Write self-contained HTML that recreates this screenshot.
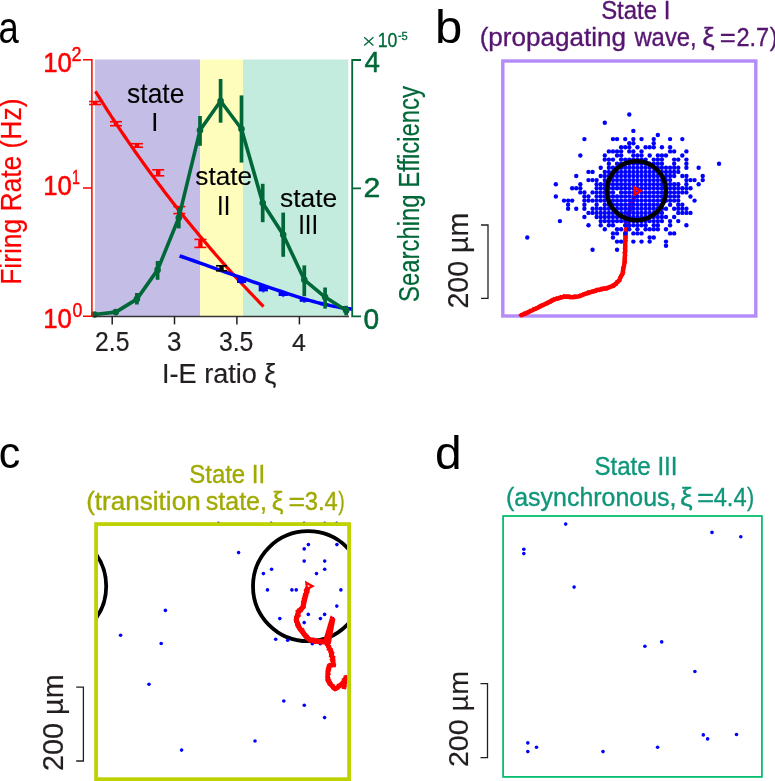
<!DOCTYPE html><html><head><meta charset="utf-8"><title>fig</title><style>
html,body{margin:0;padding:0;background:#fff;overflow:hidden;}svg{display:block;will-change:transform;}
text{font-family:"Liberation Sans",sans-serif;}
</style></head><body>
<svg width="775" height="781" viewBox="0 0 775 781">
<rect x="95" y="59.5" width="105.2" height="256.8" fill="#c4bee6"/>
<rect x="200.2" y="59.5" width="42.8" height="256.8" fill="#fffdbb"/>
<rect x="243" y="59.5" width="105.3" height="256.8" fill="#c3ecde"/>
<polyline points="95.4,91.3 97.4,94.5 99.4,97.7 101.4,100.9 103.4,104.0 105.4,107.2 107.4,110.3 109.4,113.4 111.4,116.5 113.4,119.5 115.4,122.6 117.4,125.6 119.4,128.6 121.4,131.6 123.4,134.5 125.4,137.5 127.4,140.4 129.4,143.3 131.4,146.2 133.4,149.1 135.4,152.0 137.4,154.8 139.4,157.6 141.4,160.4 143.4,163.2 145.4,166.0 147.4,168.8 149.4,171.5 151.4,174.2 153.4,176.9 155.4,179.6 157.4,182.3 159.4,185.0 161.4,187.6 163.4,190.3 165.4,192.9 167.4,195.5 169.4,198.1 171.4,200.7 173.4,203.3 175.4,205.8 177.4,208.4 179.4,210.9 181.4,213.4 183.4,215.9 185.4,218.4 187.4,220.9 189.4,223.3 191.4,225.8 193.4,228.2 195.4,230.6 197.4,233.0 199.4,235.4 201.4,237.8 203.4,240.2 205.4,242.6 207.4,244.9 209.4,247.3 211.4,249.6 213.4,251.9 215.4,254.2 217.4,256.5 219.4,258.8 221.4,261.1 223.4,263.3 225.4,265.6 227.4,267.8 229.4,270.1 231.4,272.3 233.4,274.5 235.4,276.7 237.4,278.9 239.4,281.1 241.4,283.2 243.4,285.4 245.4,287.5 247.4,289.7 249.4,291.8 251.4,293.9 253.4,296.0 255.4,298.2 257.4,300.2 259.4,302.3 261.4,304.4 263.4,306.5 263.5,306.6" fill="none" stroke="#ff0000" stroke-width="3.2"/>
<polyline points="179.6,255.8 182.9,257.0 187.5,258.6 192.9,260.5 198.8,262.6 204.6,264.7 210.0,266.6 215.0,268.4 219.8,270.1 224.7,271.8 229.6,273.6 234.7,275.3 240.0,277.2 245.7,279.2 251.7,281.3 257.8,283.4 263.9,285.6 269.7,287.6 275.0,289.4 279.8,291.0 284.3,292.5 288.4,293.9 292.4,295.2 296.2,296.4 300.0,297.6 303.6,298.7 307.0,299.7 310.3,300.6 313.5,301.5 316.7,302.4 320.0,303.2 323.4,304.0 326.9,304.8 330.5,305.6 333.9,306.2 337.1,306.9 340.0,307.4 342.7,307.8 345.2,308.2 347.6,308.5 349.6,308.7 351.3,308.9 352.6,309.0" fill="none" stroke="#0000ff" stroke-width="3.5"/>
<rect x="89.1" y="100.7" width="12" height="1.6" fill="#ff0000"/><rect x="89.1" y="103.7" width="12" height="1.6" fill="#ff0000"/><rect x="92.9" y="101.5" width="4.4" height="3" fill="#ff0000"/>
<rect x="110.0" y="120.9" width="12" height="1.6" fill="#ff0000"/><rect x="110.0" y="124.9" width="12" height="1.6" fill="#ff0000"/><rect x="113.8" y="121.7" width="4.4" height="4" fill="#ff0000"/>
<rect x="130.9" y="142.9" width="12" height="1.6" fill="#ff0000"/><rect x="130.9" y="146.4" width="12" height="1.6" fill="#ff0000"/><rect x="134.7" y="143.8" width="4.4" height="3.5" fill="#ff0000"/>
<rect x="152.2" y="169.0" width="12" height="1.6" fill="#ff0000"/><rect x="152.2" y="175.0" width="12" height="1.6" fill="#ff0000"/><rect x="156.0" y="169.8" width="4.4" height="6" fill="#ff0000"/>
<rect x="173.3" y="205.8" width="12" height="1.6" fill="#ff0000"/><rect x="173.3" y="212.8" width="12" height="1.6" fill="#ff0000"/><rect x="177.1" y="206.6" width="4.4" height="7" fill="#ff0000"/>
<rect x="194.4" y="238.6" width="12" height="1.6" fill="#ff0000"/><rect x="194.4" y="246.6" width="12" height="1.6" fill="#ff0000"/><rect x="198.2" y="239.4" width="4.4" height="8" fill="#ff0000"/>
<rect x="216.0" y="265.0" width="11" height="1.6" fill="#000000"/><rect x="216.0" y="270.0" width="11" height="1.6" fill="#000000"/><rect x="219.3" y="265.8" width="4.4" height="5" fill="#000000"/>
<rect x="237.0" y="277.8" width="9.2" height="5.2" fill="#0000ff"/>
<circle cx="241.6" cy="282.7" r="1.6" fill="#0000ff" opacity="0.6"/>
<rect x="258.7" y="285.4" width="9.2" height="6.0" fill="#0000ff"/>
<circle cx="263.3" cy="291.1" r="1.6" fill="#0000ff" opacity="0.6"/>
<rect x="278.6" y="292.2" width="9.2" height="3.8" fill="#0000ff"/>
<circle cx="283.2" cy="295.7" r="1.6" fill="#0000ff" opacity="0.6"/>
<rect x="299.7" y="298.9" width="9.2" height="2.9" fill="#0000ff"/>
<circle cx="304.3" cy="301.5" r="1.6" fill="#0000ff" opacity="0.6"/>
<rect x="320.5" y="304.4" width="9.2" height="1.1" fill="#0000ff"/>
<circle cx="325.1" cy="305.2" r="1.6" fill="#0000ff" opacity="0.6"/>
<rect x="341.6" y="308.3" width="9.2" height="1.2" fill="#0000ff"/>
<circle cx="346.2" cy="309.2" r="1.6" fill="#0000ff" opacity="0.6"/>
<polyline points="94.5,314.5 115.8,312.1 136.9,299.1 157.6,269.9 178.8,217.7 200,130.3 220.6,101 241.5,129 262.7,203 283.2,234.7 304.3,279.8 325.1,297.1 346.2,310.6" fill="none" stroke="#006838" stroke-width="3.6" stroke-linejoin="round"/>
<circle cx="94.5" cy="314.5" r="3.3" fill="#006838"/>
<rect x="113.95" y="309.8" width="3.7" height="5.4" fill="#006838"/>
<circle cx="115.8" cy="312.1" r="3.3" fill="#006838"/>
<rect x="135.05" y="293" width="3.7" height="11.5" fill="#006838"/>
<circle cx="136.9" cy="299.1" r="3.3" fill="#006838"/>
<rect x="155.75" y="261" width="3.7" height="18.8" fill="#006838"/>
<circle cx="157.6" cy="269.9" r="3.3" fill="#006838"/>
<rect x="176.95" y="207.7" width="3.7" height="20.7" fill="#006838"/>
<circle cx="178.8" cy="217.7" r="3.3" fill="#006838"/>
<rect x="198.15" y="116" width="3.7" height="29.8" fill="#006838"/>
<circle cx="200" cy="130.3" r="3.3" fill="#006838"/>
<rect x="218.75" y="79" width="3.7" height="43.7" fill="#006838"/>
<circle cx="220.6" cy="101" r="3.3" fill="#006838"/>
<rect x="239.65" y="95.4" width="3.7" height="67.2" fill="#006838"/>
<circle cx="241.5" cy="129" r="3.3" fill="#006838"/>
<rect x="260.85" y="183.8" width="3.7" height="38.4" fill="#006838"/>
<circle cx="262.7" cy="203" r="3.3" fill="#006838"/>
<rect x="281.35" y="212.6" width="3.7" height="44.2" fill="#006838"/>
<circle cx="283.2" cy="234.7" r="3.3" fill="#006838"/>
<rect x="302.45" y="265.4" width="3.7" height="30.8" fill="#006838"/>
<circle cx="304.3" cy="279.8" r="3.3" fill="#006838"/>
<rect x="323.25" y="287.5" width="3.7" height="21.1" fill="#006838"/>
<circle cx="325.1" cy="297.1" r="3.3" fill="#006838"/>
<rect x="344.35" y="305.8" width="3.7" height="9.6" fill="#006838"/>
<circle cx="346.2" cy="310.6" r="3.3" fill="#006838"/>
<path d="M83,59.7 H91.9 V316.2 H83 M83,188 H91.9" fill="none" stroke="#ff0000" stroke-width="1.5"/>
<path d="M361,60 H352.2 V316.4 H361 M352.2,188.4 H361" fill="none" stroke="#006838" stroke-width="1.8"/>
<path d="M93.5,316.5 H349" stroke="#231f20" stroke-width="1.3" opacity="0.9"/>
<line x1="112.2" y1="316.4" x2="112.2" y2="324.4" stroke="#231f20" stroke-width="1.5"/>
<line x1="174.5" y1="316.4" x2="174.5" y2="324.4" stroke="#231f20" stroke-width="1.5"/>
<line x1="236.9" y1="316.4" x2="236.9" y2="324.4" stroke="#231f20" stroke-width="1.5"/>
<line x1="299.4" y1="316.4" x2="299.4" y2="324.4" stroke="#231f20" stroke-width="1.5"/>
<path d="M364.2,37.2 L373.4,45.6 M373.4,37.2 L364.2,45.6" stroke="#006838" stroke-width="1.3"/>
<path d="M398.3,36.3 H401.3" stroke="#006838" stroke-width="1.3"/>
<rect x="502.8" y="61" width="253" height="255" fill="none" stroke="#b48cfa" stroke-width="3.4"/>
<polyline points="520.9,315.6 531.8,310.6 543.6,304.7 554.5,299.4 560.3,297.6 565.4,296.5 572.9,297.3 578.8,296.3 588.9,292.6 598.9,289.6 607.3,288 614,285.4 619.1,280.4 622.4,273.7 624.4,263.6 625.2,250.2 625.4,236.8 626,230 627,223 628.6,215 630.6,207 633.5,199 636,192" fill="none" stroke="#ff0000" stroke-width="4.4" stroke-linejoin="round"/>
<g fill="#ff0000"><rect x="518.99" y="313.48" width="3.4" height="3.4" transform="rotate(59 520.69 315.18)"/><rect x="519.90" y="313.39" width="3.4" height="3.4" transform="rotate(33 521.60 315.09)"/><rect x="521.09" y="312.80" width="3.4" height="3.4" transform="rotate(3 522.79 314.50)"/><rect x="522.75" y="311.72" width="3.4" height="3.4" transform="rotate(8 524.45 313.42)"/><rect x="523.95" y="312.07" width="3.4" height="3.4" transform="rotate(11 525.65 313.77)"/><rect x="524.92" y="311.28" width="3.4" height="3.4" transform="rotate(85 526.62 312.98)"/><rect x="526.56" y="310.44" width="3.4" height="3.4" transform="rotate(88 528.26 312.14)"/><rect x="527.13" y="310.44" width="3.4" height="3.4" transform="rotate(26 528.83 312.14)"/><rect x="528.46" y="309.00" width="3.4" height="3.4" transform="rotate(28 530.16 310.70)"/><rect x="530.48" y="308.52" width="3.4" height="3.4" transform="rotate(52 532.18 310.22)"/><rect x="531.45" y="308.16" width="3.4" height="3.4" transform="rotate(49 533.15 309.86)"/><rect x="531.94" y="307.19" width="3.4" height="3.4" transform="rotate(19 533.64 308.89)"/><rect x="533.86" y="307.04" width="3.4" height="3.4" transform="rotate(28 535.56 308.74)"/><rect x="534.92" y="306.48" width="3.4" height="3.4" transform="rotate(27 536.62 308.18)"/><rect x="536.35" y="306.19" width="3.4" height="3.4" transform="rotate(22 538.05 307.89)"/><rect x="537.27" y="305.39" width="3.4" height="3.4" transform="rotate(79 538.97 307.09)"/><rect x="538.64" y="304.52" width="3.4" height="3.4" transform="rotate(88 540.34 306.22)"/><rect x="539.08" y="304.08" width="3.4" height="3.4" transform="rotate(68 540.78 305.78)"/><rect x="540.30" y="303.58" width="3.4" height="3.4" transform="rotate(4 542.00 305.28)"/><rect x="542.10" y="303.32" width="3.4" height="3.4" transform="rotate(52 543.80 305.02)"/><rect x="543.56" y="302.19" width="3.4" height="3.4" transform="rotate(63 545.26 303.89)"/><rect x="544.44" y="301.92" width="3.4" height="3.4" transform="rotate(41 546.14 303.62)"/><rect x="545.94" y="301.77" width="3.4" height="3.4" transform="rotate(43 547.64 303.47)"/><rect x="546.94" y="300.12" width="3.4" height="3.4" transform="rotate(63 548.64 301.82)"/><rect x="548.13" y="300.65" width="3.4" height="3.4" transform="rotate(74 549.83 302.35)"/><rect x="548.91" y="299.33" width="3.4" height="3.4" transform="rotate(60 550.61 301.03)"/><rect x="549.80" y="298.83" width="3.4" height="3.4" transform="rotate(15 551.50 300.53)"/><rect x="551.13" y="297.76" width="3.4" height="3.4" transform="rotate(69 552.83 299.46)"/><rect x="552.36" y="297.40" width="3.4" height="3.4" transform="rotate(35 554.06 299.10)"/><rect x="554.70" y="296.75" width="3.4" height="3.4" transform="rotate(40 556.40 298.45)"/><rect x="555.76" y="297.26" width="3.4" height="3.4" transform="rotate(74 557.46 298.96)"/><rect x="557.59" y="296.08" width="3.4" height="3.4" transform="rotate(37 559.29 297.78)"/><rect x="558.43" y="296.36" width="3.4" height="3.4" transform="rotate(86 560.13 298.06)"/><rect x="559.46" y="295.24" width="3.4" height="3.4" transform="rotate(21 561.16 296.94)"/><rect x="560.83" y="295.33" width="3.4" height="3.4" transform="rotate(53 562.53 297.03)"/><rect x="562.14" y="294.48" width="3.4" height="3.4" transform="rotate(38 563.84 296.18)"/><rect x="563.54" y="294.88" width="3.4" height="3.4" transform="rotate(86 565.24 296.58)"/><rect x="565.43" y="294.98" width="3.4" height="3.4" transform="rotate(56 567.13 296.68)"/><rect x="566.91" y="294.58" width="3.4" height="3.4" transform="rotate(81 568.61 296.28)"/><rect x="568.54" y="295.73" width="3.4" height="3.4" transform="rotate(72 570.24 297.43)"/><rect x="569.57" y="295.32" width="3.4" height="3.4" transform="rotate(9 571.27 297.02)"/><rect x="571.36" y="295.07" width="3.4" height="3.4" transform="rotate(6 573.06 296.77)"/><rect x="572.33" y="294.94" width="3.4" height="3.4" transform="rotate(31 574.03 296.64)"/><rect x="573.61" y="294.50" width="3.4" height="3.4" transform="rotate(14 575.31 296.20)"/><rect x="575.15" y="294.69" width="3.4" height="3.4" transform="rotate(2 576.85 296.39)"/><rect x="577.55" y="294.74" width="3.4" height="3.4" transform="rotate(13 579.25 296.44)"/><rect x="578.07" y="293.95" width="3.4" height="3.4" transform="rotate(33 579.77 295.65)"/><rect x="579.17" y="294.09" width="3.4" height="3.4" transform="rotate(89 580.87 295.79)"/><rect x="580.85" y="293.19" width="3.4" height="3.4" transform="rotate(8 582.55 294.89)"/><rect x="581.67" y="292.56" width="3.4" height="3.4" transform="rotate(24 583.37 294.26)"/><rect x="583.81" y="291.88" width="3.4" height="3.4" transform="rotate(2 585.51 293.58)"/><rect x="585.22" y="291.86" width="3.4" height="3.4" transform="rotate(13 586.92 293.56)"/><rect x="585.99" y="290.79" width="3.4" height="3.4" transform="rotate(48 587.69 292.49)"/><rect x="587.77" y="291.34" width="3.4" height="3.4" transform="rotate(63 589.47 293.04)"/><rect x="588.16" y="290.37" width="3.4" height="3.4" transform="rotate(15 589.86 292.07)"/><rect x="590.03" y="290.19" width="3.4" height="3.4" transform="rotate(70 591.73 291.89)"/><rect x="590.75" y="289.44" width="3.4" height="3.4" transform="rotate(73 592.45 291.14)"/><rect x="592.78" y="289.82" width="3.4" height="3.4" transform="rotate(73 594.48 291.52)"/><rect x="593.83" y="289.31" width="3.4" height="3.4" transform="rotate(20 595.53 291.01)"/><rect x="594.72" y="288.48" width="3.4" height="3.4" transform="rotate(3 596.42 290.18)"/><rect x="595.38" y="288.01" width="3.4" height="3.4" transform="rotate(23 597.08 289.71)"/><rect x="597.43" y="288.45" width="3.4" height="3.4" transform="rotate(40 599.13 290.15)"/><rect x="599.12" y="288.22" width="3.4" height="3.4" transform="rotate(86 600.82 289.92)"/><rect x="599.84" y="287.03" width="3.4" height="3.4" transform="rotate(20 601.54 288.73)"/><rect x="601.04" y="286.75" width="3.4" height="3.4" transform="rotate(56 602.74 288.45)"/><rect x="603.28" y="287.24" width="3.4" height="3.4" transform="rotate(43 604.98 288.94)"/><rect x="604.38" y="286.93" width="3.4" height="3.4" transform="rotate(8 606.08 288.63)"/><rect x="605.79" y="286.79" width="3.4" height="3.4" transform="rotate(70 607.49 288.49)"/><rect x="607.24" y="285.75" width="3.4" height="3.4" transform="rotate(16 608.94 287.45)"/><rect x="608.63" y="285.06" width="3.4" height="3.4" transform="rotate(72 610.33 286.76)"/><rect x="610.19" y="284.62" width="3.4" height="3.4" transform="rotate(36 611.89 286.32)"/><rect x="611.50" y="284.49" width="3.4" height="3.4" transform="rotate(15 613.20 286.19)"/><rect x="611.85" y="283.28" width="3.4" height="3.4" transform="rotate(81 613.55 284.98)"/><rect x="613.69" y="282.28" width="3.4" height="3.4" transform="rotate(74 615.39 283.98)"/><rect x="614.92" y="281.89" width="3.4" height="3.4" transform="rotate(32 616.62 283.59)"/><rect x="615.42" y="280.26" width="3.4" height="3.4" transform="rotate(1 617.12 281.96)"/><rect x="616.95" y="279.88" width="3.4" height="3.4" transform="rotate(47 618.65 281.58)"/><rect x="617.92" y="278.62" width="3.4" height="3.4" transform="rotate(78 619.62 280.32)"/><rect x="618.45" y="277.01" width="3.4" height="3.4" transform="rotate(23 620.15 278.71)"/><rect x="618.47" y="275.71" width="3.4" height="3.4" transform="rotate(53 620.17 277.41)"/><rect x="619.09" y="274.58" width="3.4" height="3.4" transform="rotate(12 620.79 276.28)"/><rect x="620.53" y="273.16" width="3.4" height="3.4" transform="rotate(41 622.23 274.86)"/><rect x="620.80" y="272.49" width="3.4" height="3.4" transform="rotate(38 622.50 274.19)"/><rect x="621.49" y="270.56" width="3.4" height="3.4" transform="rotate(48 623.19 272.26)"/><rect x="621.30" y="268.54" width="3.4" height="3.4" transform="rotate(40 623.00 270.24)"/><rect x="621.18" y="267.08" width="3.4" height="3.4" transform="rotate(72 622.88 268.78)"/><rect x="621.45" y="266.20" width="3.4" height="3.4" transform="rotate(65 623.15 267.90)"/><rect x="622.20" y="264.58" width="3.4" height="3.4" transform="rotate(47 623.90 266.28)"/><rect x="622.48" y="263.68" width="3.4" height="3.4" transform="rotate(10 624.18 265.38)"/><rect x="622.77" y="261.60" width="3.4" height="3.4" transform="rotate(25 624.47 263.30)"/><rect x="623.11" y="260.57" width="3.4" height="3.4" transform="rotate(51 624.81 262.27)"/><rect x="623.17" y="259.71" width="3.4" height="3.4" transform="rotate(40 624.87 261.41)"/><rect x="623.08" y="257.89" width="3.4" height="3.4" transform="rotate(46 624.78 259.59)"/><rect x="623.25" y="256.48" width="3.4" height="3.4" transform="rotate(48 624.95 258.18)"/><rect x="623.07" y="255.73" width="3.4" height="3.4" transform="rotate(63 624.77 257.43)"/><rect x="623.63" y="254.39" width="3.4" height="3.4" transform="rotate(23 625.33 256.09)"/><rect x="623.33" y="253.05" width="3.4" height="3.4" transform="rotate(76 625.03 254.75)"/><rect x="622.90" y="250.73" width="3.4" height="3.4" transform="rotate(40 624.60 252.43)"/><rect x="622.91" y="249.53" width="3.4" height="3.4" transform="rotate(7 624.61 251.23)"/><rect x="623.70" y="248.84" width="3.4" height="3.4" transform="rotate(81 625.40 250.54)"/><rect x="623.11" y="247.42" width="3.4" height="3.4" transform="rotate(59 624.81 249.12)"/><rect x="623.11" y="246.28" width="3.4" height="3.4" transform="rotate(87 624.81 247.98)"/><rect x="623.22" y="245.02" width="3.4" height="3.4" transform="rotate(36 624.92 246.72)"/><rect x="623.56" y="243.73" width="3.4" height="3.4" transform="rotate(75 625.26 245.43)"/><rect x="623.19" y="241.72" width="3.4" height="3.4" transform="rotate(46 624.89 243.42)"/><rect x="623.43" y="240.09" width="3.4" height="3.4" transform="rotate(29 625.13 241.79)"/><rect x="623.91" y="238.54" width="3.4" height="3.4" transform="rotate(50 625.61 240.24)"/><rect x="623.59" y="237.20" width="3.4" height="3.4" transform="rotate(30 625.29 238.90)"/><rect x="623.83" y="236.45" width="3.4" height="3.4" transform="rotate(6 625.53 238.15)"/><rect x="624.28" y="235.45" width="3.4" height="3.4" transform="rotate(87 625.98 237.15)"/><rect x="623.35" y="233.46" width="3.4" height="3.4" transform="rotate(4 625.05 235.16)"/><rect x="624.27" y="232.10" width="3.4" height="3.4" transform="rotate(12 625.97 233.80)"/><rect x="623.97" y="231.51" width="3.4" height="3.4" transform="rotate(74 625.67 233.21)"/><rect x="623.89" y="229.24" width="3.4" height="3.4" transform="rotate(83 625.59 230.94)"/></g>
<g fill="#0000ff">
<circle cx="527.28" cy="237.50" r="2.2"/><circle cx="555.84" cy="184.20" r="2.2"/><circle cx="555.84" cy="196.50" r="2.2"/><circle cx="559.92" cy="221.10" r="2.2"/><circle cx="564.00" cy="200.60" r="2.2"/><circle cx="568.08" cy="200.60" r="2.2"/><circle cx="568.08" cy="204.70" r="2.2"/><circle cx="568.08" cy="208.80" r="2.2"/><circle cx="572.16" cy="188.30" r="2.2"/><circle cx="572.16" cy="200.60" r="2.2"/><circle cx="576.24" cy="176.00" r="2.2"/><circle cx="576.24" cy="188.30" r="2.2"/><circle cx="576.24" cy="208.80" r="2.2"/><circle cx="580.32" cy="155.50" r="2.2"/><circle cx="580.32" cy="184.20" r="2.2"/><circle cx="580.32" cy="188.30" r="2.2"/><circle cx="580.32" cy="192.40" r="2.2"/><circle cx="584.40" cy="139.10" r="2.2"/><circle cx="584.40" cy="192.40" r="2.2"/><circle cx="584.40" cy="196.50" r="2.2"/><circle cx="584.40" cy="200.60" r="2.2"/><circle cx="584.40" cy="204.70" r="2.2"/><circle cx="584.40" cy="208.80" r="2.2"/><circle cx="584.40" cy="217.00" r="2.2"/><circle cx="588.48" cy="171.90" r="2.2"/><circle cx="588.48" cy="180.10" r="2.2"/><circle cx="588.48" cy="196.50" r="2.2"/><circle cx="588.48" cy="200.60" r="2.2"/><circle cx="588.48" cy="212.90" r="2.2"/><circle cx="588.48" cy="225.20" r="2.2"/><circle cx="592.56" cy="171.90" r="2.2"/><circle cx="592.56" cy="180.10" r="2.2"/><circle cx="592.56" cy="192.40" r="2.2"/><circle cx="592.56" cy="200.60" r="2.2"/><circle cx="592.56" cy="208.80" r="2.2"/><circle cx="592.56" cy="212.90" r="2.2"/><circle cx="592.56" cy="249.80" r="2.2"/><circle cx="596.64" cy="180.10" r="2.2"/><circle cx="596.64" cy="184.20" r="2.2"/><circle cx="596.64" cy="188.30" r="2.2"/><circle cx="596.64" cy="192.40" r="2.2"/><circle cx="596.64" cy="196.50" r="2.2"/><circle cx="596.64" cy="200.60" r="2.2"/><circle cx="596.64" cy="204.70" r="2.2"/><circle cx="596.64" cy="208.80" r="2.2"/><circle cx="596.64" cy="212.90" r="2.2"/><circle cx="596.64" cy="217.00" r="2.2"/><circle cx="600.72" cy="167.80" r="2.2"/><circle cx="600.72" cy="176.00" r="2.2"/><circle cx="600.72" cy="184.20" r="2.2"/><circle cx="600.72" cy="188.30" r="2.2"/><circle cx="600.72" cy="192.40" r="2.2"/><circle cx="600.72" cy="196.50" r="2.2"/><circle cx="600.72" cy="200.60" r="2.2"/><circle cx="600.72" cy="208.80" r="2.2"/><circle cx="600.72" cy="212.90" r="2.2"/><circle cx="600.72" cy="217.00" r="2.2"/><circle cx="600.72" cy="221.10" r="2.2"/><circle cx="600.72" cy="225.20" r="2.2"/><circle cx="604.80" cy="122.70" r="2.2"/><circle cx="604.80" cy="155.50" r="2.2"/><circle cx="604.80" cy="159.60" r="2.2"/><circle cx="604.80" cy="171.90" r="2.2"/><circle cx="604.80" cy="176.00" r="2.2"/><circle cx="604.80" cy="180.10" r="2.2"/><circle cx="604.80" cy="184.20" r="2.2"/><circle cx="604.80" cy="188.30" r="2.2"/><circle cx="604.80" cy="192.40" r="2.2"/><circle cx="604.80" cy="196.50" r="2.2"/><circle cx="604.80" cy="200.60" r="2.2"/><circle cx="604.80" cy="204.70" r="2.2"/><circle cx="604.80" cy="208.80" r="2.2"/><circle cx="604.80" cy="212.90" r="2.2"/><circle cx="604.80" cy="217.00" r="2.2"/><circle cx="604.80" cy="221.10" r="2.2"/><circle cx="604.80" cy="229.30" r="2.2"/><circle cx="608.88" cy="151.40" r="2.2"/><circle cx="608.88" cy="159.60" r="2.2"/><circle cx="608.88" cy="163.70" r="2.2"/><circle cx="608.88" cy="167.80" r="2.2"/><circle cx="608.88" cy="171.90" r="2.2"/><circle cx="608.88" cy="176.00" r="2.2"/><circle cx="608.88" cy="180.10" r="2.2"/><circle cx="608.88" cy="184.20" r="2.2"/><circle cx="608.88" cy="188.30" r="2.2"/><circle cx="608.88" cy="192.40" r="2.2"/><circle cx="608.88" cy="196.50" r="2.2"/><circle cx="608.88" cy="200.60" r="2.2"/><circle cx="608.88" cy="204.70" r="2.2"/><circle cx="608.88" cy="208.80" r="2.2"/><circle cx="608.88" cy="212.90" r="2.2"/><circle cx="608.88" cy="217.00" r="2.2"/><circle cx="608.88" cy="221.10" r="2.2"/><circle cx="608.88" cy="225.20" r="2.2"/><circle cx="612.96" cy="139.10" r="2.2"/><circle cx="612.96" cy="151.40" r="2.2"/><circle cx="612.96" cy="159.60" r="2.2"/><circle cx="612.96" cy="167.80" r="2.2"/><circle cx="612.96" cy="171.90" r="2.2"/><circle cx="612.96" cy="176.00" r="2.2"/><circle cx="612.96" cy="180.10" r="2.2"/><circle cx="612.96" cy="184.20" r="2.2"/><circle cx="612.96" cy="188.30" r="2.2"/><circle cx="612.96" cy="192.40" r="2.2"/><circle cx="612.96" cy="196.50" r="2.2"/><circle cx="612.96" cy="200.60" r="2.2"/><circle cx="612.96" cy="204.70" r="2.2"/><circle cx="612.96" cy="208.80" r="2.2"/><circle cx="612.96" cy="212.90" r="2.2"/><circle cx="612.96" cy="217.00" r="2.2"/><circle cx="612.96" cy="221.10" r="2.2"/><circle cx="612.96" cy="225.20" r="2.2"/><circle cx="612.96" cy="233.40" r="2.2"/><circle cx="612.96" cy="237.50" r="2.2"/><circle cx="617.04" cy="139.10" r="2.2"/><circle cx="617.04" cy="151.40" r="2.2"/><circle cx="617.04" cy="155.50" r="2.2"/><circle cx="617.04" cy="163.70" r="2.2"/><circle cx="617.04" cy="167.80" r="2.2"/><circle cx="617.04" cy="171.90" r="2.2"/><circle cx="617.04" cy="176.00" r="2.2"/><circle cx="617.04" cy="180.10" r="2.2"/><circle cx="617.04" cy="184.20" r="2.2"/><circle cx="617.04" cy="188.30" r="2.2"/><circle cx="617.04" cy="196.50" r="2.2"/><circle cx="617.04" cy="200.60" r="2.2"/><circle cx="617.04" cy="204.70" r="2.2"/><circle cx="617.04" cy="208.80" r="2.2"/><circle cx="617.04" cy="212.90" r="2.2"/><circle cx="617.04" cy="217.00" r="2.2"/><circle cx="617.04" cy="221.10" r="2.2"/><circle cx="617.04" cy="229.30" r="2.2"/><circle cx="617.04" cy="233.40" r="2.2"/><circle cx="617.04" cy="241.60" r="2.2"/><circle cx="617.04" cy="249.80" r="2.2"/><circle cx="621.12" cy="147.30" r="2.2"/><circle cx="621.12" cy="151.40" r="2.2"/><circle cx="621.12" cy="155.50" r="2.2"/><circle cx="621.12" cy="159.60" r="2.2"/><circle cx="621.12" cy="163.70" r="2.2"/><circle cx="621.12" cy="167.80" r="2.2"/><circle cx="621.12" cy="171.90" r="2.2"/><circle cx="621.12" cy="176.00" r="2.2"/><circle cx="621.12" cy="180.10" r="2.2"/><circle cx="621.12" cy="184.20" r="2.2"/><circle cx="621.12" cy="188.30" r="2.2"/><circle cx="621.12" cy="192.40" r="2.2"/><circle cx="621.12" cy="196.50" r="2.2"/><circle cx="621.12" cy="200.60" r="2.2"/><circle cx="621.12" cy="204.70" r="2.2"/><circle cx="621.12" cy="208.80" r="2.2"/><circle cx="621.12" cy="212.90" r="2.2"/><circle cx="621.12" cy="217.00" r="2.2"/><circle cx="621.12" cy="221.10" r="2.2"/><circle cx="621.12" cy="229.30" r="2.2"/><circle cx="621.12" cy="241.60" r="2.2"/><circle cx="625.20" cy="139.10" r="2.2"/><circle cx="625.20" cy="147.30" r="2.2"/><circle cx="625.20" cy="159.60" r="2.2"/><circle cx="625.20" cy="163.70" r="2.2"/><circle cx="625.20" cy="167.80" r="2.2"/><circle cx="625.20" cy="171.90" r="2.2"/><circle cx="625.20" cy="176.00" r="2.2"/><circle cx="625.20" cy="180.10" r="2.2"/><circle cx="625.20" cy="184.20" r="2.2"/><circle cx="625.20" cy="188.30" r="2.2"/><circle cx="625.20" cy="192.40" r="2.2"/><circle cx="625.20" cy="196.50" r="2.2"/><circle cx="625.20" cy="200.60" r="2.2"/><circle cx="625.20" cy="204.70" r="2.2"/><circle cx="625.20" cy="208.80" r="2.2"/><circle cx="625.20" cy="212.90" r="2.2"/><circle cx="625.20" cy="217.00" r="2.2"/><circle cx="625.20" cy="221.10" r="2.2"/><circle cx="625.20" cy="225.20" r="2.2"/><circle cx="625.20" cy="233.40" r="2.2"/><circle cx="629.28" cy="114.50" r="2.2"/><circle cx="629.28" cy="143.20" r="2.2"/><circle cx="629.28" cy="147.30" r="2.2"/><circle cx="629.28" cy="151.40" r="2.2"/><circle cx="629.28" cy="159.60" r="2.2"/><circle cx="629.28" cy="163.70" r="2.2"/><circle cx="629.28" cy="167.80" r="2.2"/><circle cx="629.28" cy="171.90" r="2.2"/><circle cx="629.28" cy="176.00" r="2.2"/><circle cx="629.28" cy="180.10" r="2.2"/><circle cx="629.28" cy="184.20" r="2.2"/><circle cx="629.28" cy="188.30" r="2.2"/><circle cx="629.28" cy="192.40" r="2.2"/><circle cx="629.28" cy="196.50" r="2.2"/><circle cx="629.28" cy="200.60" r="2.2"/><circle cx="629.28" cy="204.70" r="2.2"/><circle cx="629.28" cy="208.80" r="2.2"/><circle cx="629.28" cy="212.90" r="2.2"/><circle cx="629.28" cy="217.00" r="2.2"/><circle cx="629.28" cy="221.10" r="2.2"/><circle cx="629.28" cy="225.20" r="2.2"/><circle cx="629.28" cy="229.30" r="2.2"/><circle cx="633.36" cy="130.90" r="2.2"/><circle cx="633.36" cy="139.10" r="2.2"/><circle cx="633.36" cy="143.20" r="2.2"/><circle cx="633.36" cy="151.40" r="2.2"/><circle cx="633.36" cy="155.50" r="2.2"/><circle cx="633.36" cy="159.60" r="2.2"/><circle cx="633.36" cy="163.70" r="2.2"/><circle cx="633.36" cy="167.80" r="2.2"/><circle cx="633.36" cy="171.90" r="2.2"/><circle cx="633.36" cy="176.00" r="2.2"/><circle cx="633.36" cy="180.10" r="2.2"/><circle cx="633.36" cy="184.20" r="2.2"/><circle cx="633.36" cy="188.30" r="2.2"/><circle cx="633.36" cy="192.40" r="2.2"/><circle cx="633.36" cy="196.50" r="2.2"/><circle cx="633.36" cy="200.60" r="2.2"/><circle cx="633.36" cy="204.70" r="2.2"/><circle cx="633.36" cy="208.80" r="2.2"/><circle cx="633.36" cy="212.90" r="2.2"/><circle cx="633.36" cy="217.00" r="2.2"/><circle cx="633.36" cy="221.10" r="2.2"/><circle cx="633.36" cy="225.20" r="2.2"/><circle cx="633.36" cy="233.40" r="2.2"/><circle cx="633.36" cy="241.60" r="2.2"/><circle cx="637.44" cy="147.30" r="2.2"/><circle cx="637.44" cy="155.50" r="2.2"/><circle cx="637.44" cy="159.60" r="2.2"/><circle cx="637.44" cy="163.70" r="2.2"/><circle cx="637.44" cy="167.80" r="2.2"/><circle cx="637.44" cy="171.90" r="2.2"/><circle cx="637.44" cy="176.00" r="2.2"/><circle cx="637.44" cy="180.10" r="2.2"/><circle cx="637.44" cy="184.20" r="2.2"/><circle cx="637.44" cy="188.30" r="2.2"/><circle cx="637.44" cy="192.40" r="2.2"/><circle cx="637.44" cy="196.50" r="2.2"/><circle cx="637.44" cy="200.60" r="2.2"/><circle cx="637.44" cy="204.70" r="2.2"/><circle cx="637.44" cy="208.80" r="2.2"/><circle cx="637.44" cy="212.90" r="2.2"/><circle cx="637.44" cy="217.00" r="2.2"/><circle cx="637.44" cy="221.10" r="2.2"/><circle cx="637.44" cy="225.20" r="2.2"/><circle cx="637.44" cy="229.30" r="2.2"/><circle cx="637.44" cy="233.40" r="2.2"/><circle cx="641.52" cy="139.10" r="2.2"/><circle cx="641.52" cy="151.40" r="2.2"/><circle cx="641.52" cy="155.50" r="2.2"/><circle cx="641.52" cy="159.60" r="2.2"/><circle cx="641.52" cy="163.70" r="2.2"/><circle cx="641.52" cy="167.80" r="2.2"/><circle cx="641.52" cy="171.90" r="2.2"/><circle cx="641.52" cy="176.00" r="2.2"/><circle cx="641.52" cy="180.10" r="2.2"/><circle cx="641.52" cy="184.20" r="2.2"/><circle cx="641.52" cy="188.30" r="2.2"/><circle cx="641.52" cy="192.40" r="2.2"/><circle cx="641.52" cy="196.50" r="2.2"/><circle cx="641.52" cy="200.60" r="2.2"/><circle cx="641.52" cy="204.70" r="2.2"/><circle cx="641.52" cy="208.80" r="2.2"/><circle cx="641.52" cy="212.90" r="2.2"/><circle cx="641.52" cy="217.00" r="2.2"/><circle cx="641.52" cy="221.10" r="2.2"/><circle cx="641.52" cy="225.20" r="2.2"/><circle cx="641.52" cy="233.40" r="2.2"/><circle cx="641.52" cy="241.60" r="2.2"/><circle cx="645.60" cy="147.30" r="2.2"/><circle cx="645.60" cy="159.60" r="2.2"/><circle cx="645.60" cy="163.70" r="2.2"/><circle cx="645.60" cy="167.80" r="2.2"/><circle cx="645.60" cy="171.90" r="2.2"/><circle cx="645.60" cy="176.00" r="2.2"/><circle cx="645.60" cy="180.10" r="2.2"/><circle cx="645.60" cy="184.20" r="2.2"/><circle cx="645.60" cy="188.30" r="2.2"/><circle cx="645.60" cy="192.40" r="2.2"/><circle cx="645.60" cy="196.50" r="2.2"/><circle cx="645.60" cy="200.60" r="2.2"/><circle cx="645.60" cy="204.70" r="2.2"/><circle cx="645.60" cy="208.80" r="2.2"/><circle cx="645.60" cy="212.90" r="2.2"/><circle cx="645.60" cy="217.00" r="2.2"/><circle cx="645.60" cy="221.10" r="2.2"/><circle cx="645.60" cy="225.20" r="2.2"/><circle cx="645.60" cy="229.30" r="2.2"/><circle cx="649.68" cy="147.30" r="2.2"/><circle cx="649.68" cy="155.50" r="2.2"/><circle cx="649.68" cy="163.70" r="2.2"/><circle cx="649.68" cy="167.80" r="2.2"/><circle cx="649.68" cy="171.90" r="2.2"/><circle cx="649.68" cy="176.00" r="2.2"/><circle cx="649.68" cy="180.10" r="2.2"/><circle cx="649.68" cy="184.20" r="2.2"/><circle cx="649.68" cy="188.30" r="2.2"/><circle cx="649.68" cy="192.40" r="2.2"/><circle cx="649.68" cy="196.50" r="2.2"/><circle cx="649.68" cy="200.60" r="2.2"/><circle cx="649.68" cy="204.70" r="2.2"/><circle cx="649.68" cy="208.80" r="2.2"/><circle cx="649.68" cy="212.90" r="2.2"/><circle cx="649.68" cy="217.00" r="2.2"/><circle cx="649.68" cy="221.10" r="2.2"/><circle cx="649.68" cy="229.30" r="2.2"/><circle cx="649.68" cy="237.50" r="2.2"/><circle cx="649.68" cy="241.60" r="2.2"/><circle cx="653.76" cy="139.10" r="2.2"/><circle cx="653.76" cy="143.20" r="2.2"/><circle cx="653.76" cy="147.30" r="2.2"/><circle cx="653.76" cy="159.60" r="2.2"/><circle cx="653.76" cy="163.70" r="2.2"/><circle cx="653.76" cy="167.80" r="2.2"/><circle cx="653.76" cy="171.90" r="2.2"/><circle cx="653.76" cy="176.00" r="2.2"/><circle cx="653.76" cy="180.10" r="2.2"/><circle cx="653.76" cy="184.20" r="2.2"/><circle cx="653.76" cy="188.30" r="2.2"/><circle cx="653.76" cy="192.40" r="2.2"/><circle cx="653.76" cy="196.50" r="2.2"/><circle cx="653.76" cy="200.60" r="2.2"/><circle cx="653.76" cy="204.70" r="2.2"/><circle cx="653.76" cy="208.80" r="2.2"/><circle cx="653.76" cy="212.90" r="2.2"/><circle cx="653.76" cy="217.00" r="2.2"/><circle cx="653.76" cy="221.10" r="2.2"/><circle cx="653.76" cy="225.20" r="2.2"/><circle cx="653.76" cy="229.30" r="2.2"/><circle cx="653.76" cy="237.50" r="2.2"/><circle cx="657.84" cy="135.00" r="2.2"/><circle cx="657.84" cy="155.50" r="2.2"/><circle cx="657.84" cy="159.60" r="2.2"/><circle cx="657.84" cy="163.70" r="2.2"/><circle cx="657.84" cy="167.80" r="2.2"/><circle cx="657.84" cy="171.90" r="2.2"/><circle cx="657.84" cy="176.00" r="2.2"/><circle cx="657.84" cy="180.10" r="2.2"/><circle cx="657.84" cy="184.20" r="2.2"/><circle cx="657.84" cy="188.30" r="2.2"/><circle cx="657.84" cy="192.40" r="2.2"/><circle cx="657.84" cy="196.50" r="2.2"/><circle cx="657.84" cy="200.60" r="2.2"/><circle cx="657.84" cy="204.70" r="2.2"/><circle cx="657.84" cy="208.80" r="2.2"/><circle cx="657.84" cy="212.90" r="2.2"/><circle cx="657.84" cy="217.00" r="2.2"/><circle cx="657.84" cy="221.10" r="2.2"/><circle cx="657.84" cy="225.20" r="2.2"/><circle cx="657.84" cy="229.30" r="2.2"/><circle cx="661.92" cy="147.30" r="2.2"/><circle cx="661.92" cy="155.50" r="2.2"/><circle cx="661.92" cy="159.60" r="2.2"/><circle cx="661.92" cy="163.70" r="2.2"/><circle cx="661.92" cy="167.80" r="2.2"/><circle cx="661.92" cy="171.90" r="2.2"/><circle cx="661.92" cy="176.00" r="2.2"/><circle cx="661.92" cy="180.10" r="2.2"/><circle cx="661.92" cy="184.20" r="2.2"/><circle cx="661.92" cy="188.30" r="2.2"/><circle cx="661.92" cy="192.40" r="2.2"/><circle cx="661.92" cy="196.50" r="2.2"/><circle cx="661.92" cy="200.60" r="2.2"/><circle cx="661.92" cy="204.70" r="2.2"/><circle cx="661.92" cy="208.80" r="2.2"/><circle cx="661.92" cy="212.90" r="2.2"/><circle cx="661.92" cy="217.00" r="2.2"/><circle cx="661.92" cy="221.10" r="2.2"/><circle cx="666.00" cy="155.50" r="2.2"/><circle cx="666.00" cy="167.80" r="2.2"/><circle cx="666.00" cy="171.90" r="2.2"/><circle cx="666.00" cy="176.00" r="2.2"/><circle cx="666.00" cy="180.10" r="2.2"/><circle cx="666.00" cy="184.20" r="2.2"/><circle cx="666.00" cy="188.30" r="2.2"/><circle cx="666.00" cy="192.40" r="2.2"/><circle cx="666.00" cy="196.50" r="2.2"/><circle cx="666.00" cy="200.60" r="2.2"/><circle cx="666.00" cy="208.80" r="2.2"/><circle cx="666.00" cy="217.00" r="2.2"/><circle cx="666.00" cy="229.30" r="2.2"/><circle cx="666.00" cy="241.60" r="2.2"/><circle cx="666.00" cy="245.70" r="2.2"/><circle cx="670.08" cy="139.10" r="2.2"/><circle cx="670.08" cy="147.30" r="2.2"/><circle cx="670.08" cy="151.40" r="2.2"/><circle cx="670.08" cy="167.80" r="2.2"/><circle cx="670.08" cy="171.90" r="2.2"/><circle cx="670.08" cy="176.00" r="2.2"/><circle cx="670.08" cy="180.10" r="2.2"/><circle cx="670.08" cy="184.20" r="2.2"/><circle cx="670.08" cy="188.30" r="2.2"/><circle cx="670.08" cy="192.40" r="2.2"/><circle cx="670.08" cy="196.50" r="2.2"/><circle cx="670.08" cy="200.60" r="2.2"/><circle cx="670.08" cy="204.70" r="2.2"/><circle cx="670.08" cy="221.10" r="2.2"/><circle cx="670.08" cy="225.20" r="2.2"/><circle cx="670.08" cy="233.40" r="2.2"/><circle cx="674.16" cy="151.40" r="2.2"/><circle cx="674.16" cy="159.60" r="2.2"/><circle cx="674.16" cy="163.70" r="2.2"/><circle cx="674.16" cy="167.80" r="2.2"/><circle cx="674.16" cy="171.90" r="2.2"/><circle cx="674.16" cy="176.00" r="2.2"/><circle cx="674.16" cy="184.20" r="2.2"/><circle cx="674.16" cy="188.30" r="2.2"/><circle cx="674.16" cy="192.40" r="2.2"/><circle cx="674.16" cy="196.50" r="2.2"/><circle cx="674.16" cy="200.60" r="2.2"/><circle cx="674.16" cy="208.80" r="2.2"/><circle cx="674.16" cy="217.00" r="2.2"/><circle cx="674.16" cy="233.40" r="2.2"/><circle cx="678.24" cy="159.60" r="2.2"/><circle cx="678.24" cy="167.80" r="2.2"/><circle cx="678.24" cy="171.90" r="2.2"/><circle cx="678.24" cy="184.20" r="2.2"/><circle cx="678.24" cy="188.30" r="2.2"/><circle cx="678.24" cy="192.40" r="2.2"/><circle cx="678.24" cy="196.50" r="2.2"/><circle cx="678.24" cy="200.60" r="2.2"/><circle cx="678.24" cy="204.70" r="2.2"/><circle cx="678.24" cy="208.80" r="2.2"/><circle cx="678.24" cy="212.90" r="2.2"/><circle cx="678.24" cy="221.10" r="2.2"/><circle cx="682.32" cy="139.10" r="2.2"/><circle cx="682.32" cy="155.50" r="2.2"/><circle cx="682.32" cy="176.00" r="2.2"/><circle cx="682.32" cy="188.30" r="2.2"/><circle cx="682.32" cy="192.40" r="2.2"/><circle cx="682.32" cy="204.70" r="2.2"/><circle cx="682.32" cy="208.80" r="2.2"/><circle cx="682.32" cy="212.90" r="2.2"/><circle cx="686.40" cy="151.40" r="2.2"/><circle cx="686.40" cy="159.60" r="2.2"/><circle cx="686.40" cy="163.70" r="2.2"/><circle cx="686.40" cy="167.80" r="2.2"/><circle cx="686.40" cy="176.00" r="2.2"/><circle cx="686.40" cy="180.10" r="2.2"/><circle cx="686.40" cy="184.20" r="2.2"/><circle cx="686.40" cy="188.30" r="2.2"/><circle cx="686.40" cy="192.40" r="2.2"/><circle cx="686.40" cy="208.80" r="2.2"/><circle cx="686.40" cy="212.90" r="2.2"/><circle cx="686.40" cy="225.20" r="2.2"/><circle cx="690.48" cy="180.10" r="2.2"/><circle cx="690.48" cy="188.30" r="2.2"/><circle cx="690.48" cy="196.50" r="2.2"/><circle cx="690.48" cy="212.90" r="2.2"/><circle cx="694.56" cy="180.10" r="2.2"/><circle cx="694.56" cy="200.60" r="2.2"/><circle cx="698.64" cy="167.80" r="2.2"/><circle cx="698.64" cy="184.20" r="2.2"/><circle cx="702.72" cy="176.00" r="2.2"/><circle cx="702.72" cy="180.10" r="2.2"/><circle cx="719.04" cy="163.70" r="2.2"/>
</g>
<circle cx="636.4" cy="190.8" r="29.5" fill="none" stroke="#000" stroke-width="4.5"/>
<path d="M634.7,187.6 L640.5,190.9 L634.7,194.5 Z" fill="none" stroke="#ff0000" stroke-width="2.5" stroke-linejoin="miter"/>
<path d="M481,225 H488 V298.3 H481" fill="none" stroke="#231f20" stroke-width="1.3"/>
<defs><clipPath id="cc"><rect x="98" y="526" width="249.2" height="251.3"/></clipPath></defs>
<g clip-path="url(#cc)">
<circle cx="308" cy="586.2" r="55" fill="none" stroke="#000" stroke-width="3.8"/>
<circle cx="51.2" cy="586.2" r="55" fill="none" stroke="#000" stroke-width="3.8"/>
<g fill="#0000ff"><circle cx="238.6" cy="552.6" r="1.8"/><circle cx="165.4" cy="610.4" r="1.8"/><circle cx="120.6" cy="635.2" r="1.8"/><circle cx="161.2" cy="643.5" r="1.8"/><circle cx="308.4" cy="544.6" r="1.8"/><circle cx="304.2" cy="548.9" r="1.8"/><circle cx="336.9" cy="544.6" r="1.8"/><circle cx="304.2" cy="561.1" r="1.8"/><circle cx="324.7" cy="561.1" r="1.8"/><circle cx="271.6" cy="569.3" r="1.8"/><circle cx="263.4" cy="573.6" r="1.8"/><circle cx="324.7" cy="569.3" r="1.8"/><circle cx="316.5" cy="573.6" r="1.8"/><circle cx="267.5" cy="589.9" r="1.8"/><circle cx="291.9" cy="589.9" r="1.8"/><circle cx="296.2" cy="589.9" r="1.8"/><circle cx="340.9" cy="589.9" r="1.8"/><circle cx="336.8" cy="606.1" r="1.8"/><circle cx="308.3" cy="614.4" r="1.8"/><circle cx="324.6" cy="614.4" r="1.8"/><circle cx="279.8" cy="618.6" r="1.8"/><circle cx="320.4" cy="618.6" r="1.8"/><circle cx="332.7" cy="618.6" r="1.8"/><circle cx="304.2" cy="622.6" r="1.8"/><circle cx="275.7" cy="639.2" r="1.8"/><circle cx="287.7" cy="640.3" r="1.8"/><circle cx="312.3" cy="643.8" r="1.8"/><circle cx="320.3" cy="643.8" r="1.8"/><circle cx="283.8" cy="701" r="1.8"/><circle cx="304.3" cy="705.3" r="1.8"/><circle cx="324.6" cy="717.6" r="1.8"/><circle cx="149" cy="684.3" r="1.8"/><circle cx="255" cy="741" r="1.8"/><circle cx="181.6" cy="750.1" r="1.8"/></g>
<polyline points="307.8,587.4 305.6,596.2 302.7,607.3 299,611 296.1,619.8 299.7,628.6 304.2,634.5 308.6,639 314.5,641.2 324.8,641.9" fill="none" stroke="#ff0000" stroke-width="5" stroke-linejoin="round"/>
<path d="M323.5,643 L331.2,617 L334.3,619.5 L330,643 Z" fill="#ff0000" stroke="#ff0000" stroke-width="2"/>
<g fill="#ff0000"><rect x="305.81" y="585.62" width="4.2" height="4.2" transform="rotate(8 307.91 587.72)"/><rect x="304.63" y="587.07" width="4.2" height="4.2" transform="rotate(38 306.73 589.17)"/><rect x="304.28" y="588.93" width="4.2" height="4.2" transform="rotate(57 306.38 591.03)"/><rect x="305.08" y="589.03" width="4.2" height="4.2" transform="rotate(77 307.18 591.13)"/><rect x="303.54" y="591.75" width="4.2" height="4.2" transform="rotate(41 305.64 593.85)"/><rect x="303.61" y="592.72" width="4.2" height="4.2" transform="rotate(83 305.71 594.82)"/><rect x="303.13" y="593.51" width="4.2" height="4.2" transform="rotate(47 305.23 595.61)"/><rect x="302.72" y="594.86" width="4.2" height="4.2" transform="rotate(15 304.82 596.96)"/><rect x="302.06" y="596.40" width="4.2" height="4.2" transform="rotate(28 304.16 598.50)"/><rect x="302.10" y="598.68" width="4.2" height="4.2" transform="rotate(26 304.20 600.78)"/><rect x="302.05" y="599.13" width="4.2" height="4.2" transform="rotate(31 304.15 601.23)"/><rect x="300.92" y="600.64" width="4.2" height="4.2" transform="rotate(1 303.02 602.74)"/><rect x="301.70" y="602.51" width="4.2" height="4.2" transform="rotate(17 303.80 604.61)"/><rect x="300.92" y="604.51" width="4.2" height="4.2" transform="rotate(10 303.02 606.61)"/><rect x="301.11" y="605.09" width="4.2" height="4.2" transform="rotate(45 303.21 607.19)"/><rect x="300.21" y="605.95" width="4.2" height="4.2" transform="rotate(46 302.31 608.05)"/><rect x="299.05" y="607.82" width="4.2" height="4.2" transform="rotate(31 301.15 609.92)"/><rect x="298.36" y="608.31" width="4.2" height="4.2" transform="rotate(57 300.46 610.41)"/><rect x="296.75" y="608.66" width="4.2" height="4.2" transform="rotate(5 298.85 610.76)"/><rect x="295.89" y="609.47" width="4.2" height="4.2" transform="rotate(67 297.99 611.57)"/><rect x="295.68" y="610.88" width="4.2" height="4.2" transform="rotate(8 297.78 612.98)"/><rect x="296.20" y="613.26" width="4.2" height="4.2" transform="rotate(60 298.30 615.36)"/><rect x="294.89" y="613.52" width="4.2" height="4.2" transform="rotate(26 296.99 615.62)"/><rect x="294.76" y="614.64" width="4.2" height="4.2" transform="rotate(40 296.86 616.74)"/><rect x="294.04" y="617.18" width="4.2" height="4.2" transform="rotate(88 296.14 619.28)"/><rect x="294.08" y="617.29" width="4.2" height="4.2" transform="rotate(87 296.18 619.39)"/><rect x="294.21" y="618.73" width="4.2" height="4.2" transform="rotate(0 296.31 620.83)"/><rect x="294.84" y="620.17" width="4.2" height="4.2" transform="rotate(45 296.94 622.27)"/><rect x="295.06" y="621.48" width="4.2" height="4.2" transform="rotate(0 297.16 623.58)"/><rect x="295.68" y="622.07" width="4.2" height="4.2" transform="rotate(36 297.78 624.17)"/><rect x="295.84" y="623.22" width="4.2" height="4.2" transform="rotate(27 297.94 625.32)"/><rect x="296.66" y="625.38" width="4.2" height="4.2" transform="rotate(48 298.76 627.48)"/><rect x="298.00" y="626.75" width="4.2" height="4.2" transform="rotate(64 300.10 628.85)"/><rect x="299.11" y="627.50" width="4.2" height="4.2" transform="rotate(29 301.21 629.60)"/><rect x="300.18" y="628.30" width="4.2" height="4.2" transform="rotate(65 302.28 630.40)"/><rect x="300.53" y="629.31" width="4.2" height="4.2" transform="rotate(75 302.63 631.41)"/><rect x="301.83" y="631.42" width="4.2" height="4.2" transform="rotate(66 303.93 633.52)"/><rect x="302.60" y="631.82" width="4.2" height="4.2" transform="rotate(47 304.70 633.92)"/><rect x="303.21" y="634.06" width="4.2" height="4.2" transform="rotate(72 305.31 636.16)"/><rect x="304.82" y="634.78" width="4.2" height="4.2" transform="rotate(80 306.92 636.88)"/><rect x="305.69" y="636.08" width="4.2" height="4.2" transform="rotate(21 307.79 638.18)"/><rect x="305.75" y="636.31" width="4.2" height="4.2" transform="rotate(32 307.85 638.41)"/><rect x="307.34" y="637.99" width="4.2" height="4.2" transform="rotate(50 309.44 640.09)"/><rect x="309.65" y="638.20" width="4.2" height="4.2" transform="rotate(61 311.75 640.30)"/><rect x="310.91" y="637.76" width="4.2" height="4.2" transform="rotate(72 313.01 639.86)"/><rect x="312.80" y="639.10" width="4.2" height="4.2" transform="rotate(48 314.90 641.20)"/><rect x="314.13" y="638.51" width="4.2" height="4.2" transform="rotate(66 316.23 640.61)"/><rect x="314.95" y="638.62" width="4.2" height="4.2" transform="rotate(24 317.05 640.72)"/><rect x="317.18" y="638.93" width="4.2" height="4.2" transform="rotate(67 319.28 641.03)"/><rect x="319.05" y="639.49" width="4.2" height="4.2" transform="rotate(34 321.15 641.59)"/><rect x="319.72" y="639.89" width="4.2" height="4.2" transform="rotate(69 321.82 641.99)"/><rect x="321.42" y="639.93" width="4.2" height="4.2" transform="rotate(7 323.52 642.03)"/></g>
<polyline points="326.5,642 327.7,644.8 330.7,650.7 332.9,659.6 333.6,664.7 329.2,665.5 327.7,672.9 327.7,680.2 330.7,684.6 335.1,689.1 339.5,686.1 344,681.7 346.5,677.5 344,684 344,689.1" fill="none" stroke="#ff0000" stroke-width="4.6" stroke-linejoin="round"/>
<g fill="#ff0000"><rect x="323.94" y="639.61" width="4.0" height="4.0" transform="rotate(67 325.94 641.61)"/><rect x="324.79" y="641.51" width="4.0" height="4.0" transform="rotate(1 326.79 643.51)"/><rect x="325.00" y="642.43" width="4.0" height="4.0" transform="rotate(60 327.00 644.43)"/><rect x="326.61" y="644.26" width="4.0" height="4.0" transform="rotate(26 328.61 646.26)"/><rect x="326.93" y="645.10" width="4.0" height="4.0" transform="rotate(42 328.93 647.10)"/><rect x="326.89" y="646.97" width="4.0" height="4.0" transform="rotate(18 328.89 648.97)"/><rect x="328.87" y="648.22" width="4.0" height="4.0" transform="rotate(2 330.87 650.22)"/><rect x="328.63" y="649.21" width="4.0" height="4.0" transform="rotate(87 330.63 651.21)"/><rect x="328.93" y="649.60" width="4.0" height="4.0" transform="rotate(19 330.93 651.60)"/><rect x="330.04" y="650.78" width="4.0" height="4.0" transform="rotate(52 332.04 652.78)"/><rect x="329.07" y="652.55" width="4.0" height="4.0" transform="rotate(86 331.07 654.55)"/><rect x="329.37" y="654.30" width="4.0" height="4.0" transform="rotate(46 331.37 656.30)"/><rect x="330.89" y="655.38" width="4.0" height="4.0" transform="rotate(21 332.89 657.38)"/><rect x="331.22" y="656.31" width="4.0" height="4.0" transform="rotate(2 333.22 658.31)"/><rect x="330.11" y="657.59" width="4.0" height="4.0" transform="rotate(41 332.11 659.59)"/><rect x="330.82" y="658.73" width="4.0" height="4.0" transform="rotate(31 332.82 660.73)"/><rect x="331.07" y="661.54" width="4.0" height="4.0" transform="rotate(0 333.07 663.54)"/><rect x="332.00" y="663.24" width="4.0" height="4.0" transform="rotate(11 334.00 665.24)"/><rect x="330.82" y="663.31" width="4.0" height="4.0" transform="rotate(81 332.82 665.31)"/><rect x="328.33" y="663.03" width="4.0" height="4.0" transform="rotate(35 330.33 665.03)"/><rect x="328.00" y="663.64" width="4.0" height="4.0" transform="rotate(32 330.00 665.64)"/><rect x="326.78" y="664.62" width="4.0" height="4.0" transform="rotate(4 328.78 666.62)"/><rect x="325.96" y="667.00" width="4.0" height="4.0" transform="rotate(26 327.96 669.00)"/><rect x="327.00" y="667.54" width="4.0" height="4.0" transform="rotate(24 329.00 669.54)"/><rect x="326.02" y="668.92" width="4.0" height="4.0" transform="rotate(34 328.02 670.92)"/><rect x="326.43" y="671.51" width="4.0" height="4.0" transform="rotate(73 328.43 673.51)"/><rect x="325.91" y="673.02" width="4.0" height="4.0" transform="rotate(85 327.91 675.02)"/><rect x="325.78" y="674.17" width="4.0" height="4.0" transform="rotate(4 327.78 676.17)"/><rect x="326.07" y="675.20" width="4.0" height="4.0" transform="rotate(68 328.07 677.20)"/><rect x="325.93" y="676.40" width="4.0" height="4.0" transform="rotate(4 327.93 678.40)"/><rect x="326.38" y="677.60" width="4.0" height="4.0" transform="rotate(42 328.38 679.60)"/><rect x="326.20" y="678.98" width="4.0" height="4.0" transform="rotate(67 328.20 680.98)"/><rect x="327.96" y="680.02" width="4.0" height="4.0" transform="rotate(59 329.96 682.02)"/><rect x="327.63" y="681.59" width="4.0" height="4.0" transform="rotate(35 329.63 683.59)"/><rect x="328.17" y="682.06" width="4.0" height="4.0" transform="rotate(19 330.17 684.06)"/><rect x="330.45" y="683.72" width="4.0" height="4.0" transform="rotate(20 332.45 685.72)"/><rect x="331.55" y="685.64" width="4.0" height="4.0" transform="rotate(40 333.55 687.64)"/><rect x="331.42" y="685.48" width="4.0" height="4.0" transform="rotate(8 333.42 687.48)"/><rect x="332.85" y="686.45" width="4.0" height="4.0" transform="rotate(22 334.85 688.45)"/><rect x="333.81" y="686.46" width="4.0" height="4.0" transform="rotate(80 335.81 688.46)"/><rect x="335.70" y="685.46" width="4.0" height="4.0" transform="rotate(37 337.70 687.46)"/><rect x="336.44" y="684.65" width="4.0" height="4.0" transform="rotate(30 338.44 686.65)"/><rect x="336.80" y="683.74" width="4.0" height="4.0" transform="rotate(87 338.80 685.74)"/><rect x="338.03" y="683.01" width="4.0" height="4.0" transform="rotate(57 340.03 685.01)"/><rect x="340.33" y="681.45" width="4.0" height="4.0" transform="rotate(24 342.33 683.45)"/><rect x="340.47" y="680.64" width="4.0" height="4.0" transform="rotate(40 342.47 682.64)"/><rect x="342.73" y="680.26" width="4.0" height="4.0" transform="rotate(79 344.73 682.26)"/><rect x="342.07" y="677.55" width="4.0" height="4.0" transform="rotate(64 344.07 679.55)"/><rect x="344.30" y="676.86" width="4.0" height="4.0" transform="rotate(53 346.30 678.86)"/><rect x="343.70" y="675.33" width="4.0" height="4.0" transform="rotate(83 345.70 677.33)"/><rect x="344.52" y="677.37" width="4.0" height="4.0" transform="rotate(88 346.52 679.37)"/><rect x="343.10" y="677.47" width="4.0" height="4.0" transform="rotate(14 345.10 679.47)"/><rect x="343.04" y="679.69" width="4.0" height="4.0" transform="rotate(85 345.04 681.69)"/><rect x="342.85" y="680.94" width="4.0" height="4.0" transform="rotate(69 344.85 682.94)"/><rect x="341.93" y="682.08" width="4.0" height="4.0" transform="rotate(4 343.93 684.08)"/><rect x="342.45" y="683.27" width="4.0" height="4.0" transform="rotate(83 344.45 685.27)"/><rect x="342.23" y="685.09" width="4.0" height="4.0" transform="rotate(12 344.23 687.09)"/></g>
<path d="M306.3,582.6 L312.6,586.2 L307,589 Z" fill="#fcc" stroke="#ff0000" stroke-width="2.2"/>
</g>
<g fill="#0000ff"><circle cx="218.4" cy="522.6" r="1.2"/><circle cx="271.2" cy="522.6" r="1.2"/><circle cx="304.1" cy="522.6" r="1.2"/><circle cx="324.6" cy="522.6" r="1.2"/><circle cx="336.7" cy="522.6" r="1.2"/></g>
<rect x="96.1" y="524.1" width="253" height="255.1" fill="none" stroke="#bed200" stroke-width="3.8"/>
<path d="M76.2,687.1 H83.4 V761 H76.2" fill="none" stroke="#231f20" stroke-width="1.3"/>
<rect x="503.1" y="516" width="258.8" height="260.9" fill="none" stroke="#05bf6e" stroke-width="1.8"/>
<g fill="#0000ff"><circle cx="565.7" cy="524.1" r="1.8"/><circle cx="523.8" cy="549.2" r="1.8"/><circle cx="523.8" cy="553.6" r="1.8"/><circle cx="712" cy="532.4" r="1.8"/><circle cx="740.8" cy="536.8" r="1.8"/><circle cx="574.1" cy="587.1" r="1.8"/><circle cx="644.9" cy="646.3" r="1.8"/><circle cx="661.7" cy="641.9" r="1.8"/><circle cx="694.9" cy="671.5" r="1.8"/><circle cx="703.3" cy="734.9" r="1.8"/><circle cx="707.6" cy="738.9" r="1.8"/><circle cx="736.5" cy="734.5" r="1.8"/><circle cx="527.8" cy="742.9" r="1.8"/><circle cx="536.5" cy="747.3" r="1.8"/><circle cx="527.8" cy="751.6" r="1.8"/><circle cx="603" cy="751.6" r="1.8"/><circle cx="657.6" cy="747.3" r="1.8"/></g>
<path d="M480.5,683.6 H487.5 V757.6 H480.5" fill="none" stroke="#231f20" stroke-width="1.3"/>
<text transform="translate(-1.58,42.60) scale(0.7917,0.9760)" font-size="46" fill="#000">a</text>
<text transform="translate(435.10,42.80) scale(1.0667,1.0000)" font-size="46" fill="#000">b</text>
<text transform="translate(-1.37,468.00) scale(0.9368,0.9480)" font-size="46" fill="#000">c</text>
<text transform="translate(435.01,468.70) scale(1.0429,1.0206)" font-size="46" fill="#000">d</text>
<text transform="translate(43.32,71.70) scale(0.9885,1.0389)" font-size="26" fill="#ff0000" stroke="#ff0000" stroke-width="0.5">10</text>
<text transform="translate(71.56,60.70) scale(0.9444,1.0462)" font-size="19" fill="#ff0000" stroke="#ff0000" stroke-width="0.4">2</text>
<text transform="translate(43.32,195.20) scale(0.9885,1.0556)" font-size="26" fill="#ff0000" stroke="#ff0000" stroke-width="0.5">10</text>
<text transform="translate(71.88,183.90) scale(0.7500,1.0385)" font-size="19" fill="#ff0000" stroke="#ff0000" stroke-width="0.4">1</text>
<text transform="translate(43.32,328.10) scale(0.9885,1.0500)" font-size="26" fill="#ff0000" stroke="#ff0000" stroke-width="0.5">10</text>
<text transform="translate(72.50,316.70) scale(0.9300,1.0385)" font-size="19" fill="#ff0000" stroke="#ff0000" stroke-width="0.4">0</text>
<text transform="translate(21.31,284.85) rotate(-90) scale(0.9269,1.0654)" font-size="28.5" fill="#ff0000" stroke="#ff0000" stroke-width="0.2">Firing Rate (Hz)</text>
<text transform="translate(95.05,351.30) scale(0.9500,1.0278)" font-size="26" fill="#231f20" stroke="#231f20" stroke-width="0.2">2.5</text>
<text transform="translate(167.10,351.30) scale(1.0000,1.0278)" font-size="26" fill="#231f20" stroke="#231f20" stroke-width="0.2">3</text>
<text transform="translate(218.95,351.30) scale(0.9529,1.0278)" font-size="26" fill="#231f20" stroke="#231f20" stroke-width="0.2">3.5</text>
<text transform="translate(292.00,350.50) scale(0.9571,0.9444)" font-size="26" fill="#231f20" stroke="#231f20" stroke-width="0.2">4</text>
<text transform="translate(162.09,383.34) scale(1.0027,1.0120)" font-size="27" fill="#231f20" stroke="#231f20" stroke-width="0.2">I-E ratio ξ</text>
<text transform="translate(127.10,103.10) scale(0.9982,1.0471)" font-size="26.5" fill="#000" stroke="#000" stroke-width="0.1">state</text>
<text transform="translate(151.27,131.30) scale(0.9667,1.0056)" font-size="26.5" fill="#000" stroke="#000" stroke-width="0.1">I</text>
<text transform="translate(195.31,184.80) scale(0.9891,0.9529)" font-size="26.5" fill="#000" stroke="#000" stroke-width="0.1">state</text>
<text transform="translate(217.10,215.10) scale(0.9000,1.0278)" font-size="26.5" fill="#000" stroke="#000" stroke-width="0.1">II</text>
<text transform="translate(280.00,206.60) scale(0.9964,1.0059)" font-size="26.5" fill="#000" stroke="#000" stroke-width="0.1">state</text>
<text transform="translate(298.19,233.70) scale(0.9056,1.0278)" font-size="26.5" fill="#000" stroke="#000" stroke-width="0.1">III</text>
<text transform="translate(364.60,71.60) scale(1.0067,1.0526)" font-size="27.5" fill="#006838" stroke="#006838" stroke-width="0.5">4</text>
<text transform="translate(363.40,196.60) scale(1.1000,1.0211)" font-size="27.5" fill="#006838" stroke="#006838" stroke-width="0.5">2</text>
<text transform="translate(363.48,328.50) scale(1.0214,1.0789)" font-size="27.5" fill="#006838" stroke="#006838" stroke-width="0.5">0</text>
<text transform="translate(377.64,46.70) scale(0.9579,1.0769)" font-size="18.5" fill="#006838" stroke="#006838" stroke-width="0.3">10</text>
<text transform="translate(401.50,39.70) scale(0.9667,1.0125)" font-size="11.5" fill="#006838" stroke="#006838" stroke-width="0.3">5</text>
<text transform="translate(418.63,301.90) rotate(-90) scale(0.7963,0.9786)" font-size="30" fill="#006838" stroke="#006838" stroke-width="0.2">Searching Efficiency</text>
<text transform="translate(601.16,18.50) scale(0.9394,1.0000)" font-size="25.5" fill="#561571" stroke="#561571" stroke-width="0.35">State I</text>
<text transform="translate(479.68,45.70) scale(1.0220,1.0000)" font-size="25.5" fill="#561571" stroke="#561571" stroke-width="0.35">(propagating</text>
<text transform="translate(634.40,45.70) scale(0.9354,1.0000)" font-size="25.5" fill="#561571" stroke="#561571" stroke-width="0.35">wave,</text>
<text transform="translate(702.31,45.70) scale(1.0900,1.0000)" font-size="25.5" fill="#561571" stroke="#561571" stroke-width="0.35">ξ</text>
<text transform="translate(719.72,45.70) scale(1.0769,1.0000)" font-size="25.5" fill="#561571" stroke="#561571" stroke-width="0.35">=</text>
<text transform="translate(736.38,45.70) scale(0.9242,1.0000)" font-size="25.5" fill="#561571" stroke="#561571" stroke-width="0.35">2.7</text>
<text transform="translate(769.70,45.70) scale(0.9286,1.0000)" font-size="25.5" fill="#561571" stroke="#561571" stroke-width="0.35">)</text>
<text transform="translate(468.31,308.52) rotate(-90) scale(1.0209,1.0320)" font-size="28" fill="#231f20" stroke="#231f20" stroke-width="0.15">200 µm</text>
<text transform="translate(189.26,483.20) scale(0.9397,1.0000)" font-size="25.5" fill="#a0aa00" stroke="#a0aa00" stroke-width="0.35">State II</text>
<text transform="translate(86.18,509.50) scale(1.0227,1.0000)" font-size="25.5" fill="#a0aa00" stroke="#a0aa00" stroke-width="0.35">(transition</text>
<text transform="translate(205.82,509.50) scale(0.9797,1.0000)" font-size="25.5" fill="#a0aa00" stroke="#a0aa00" stroke-width="0.35">state,</text>
<text transform="translate(271.67,509.50) scale(1.0300,1.0000)" font-size="25.5" fill="#a0aa00" stroke="#a0aa00" stroke-width="0.35">ξ</text>
<text transform="translate(288.58,509.50) scale(1.1154,1.0000)" font-size="25.5" fill="#a0aa00" stroke="#a0aa00" stroke-width="0.35">=</text>
<text transform="translate(304.77,509.50) scale(0.9324,1.0000)" font-size="25.5" fill="#a0aa00" stroke="#a0aa00" stroke-width="0.35">3.4</text>
<text transform="translate(338.30,509.50) scale(0.7571,1.0000)" font-size="25.5" fill="#a0aa00" stroke="#a0aa00" stroke-width="0.35">)</text>
<text transform="translate(63.36,771.03) rotate(-90) scale(1.0297,1.0240)" font-size="28" fill="#231f20" stroke="#231f20" stroke-width="0.15">200 µm</text>
<text transform="translate(594.45,474.50) scale(0.9459,1.0000)" font-size="25.5" fill="#0f967a" stroke="#0f967a" stroke-width="0.35">State III</text>
<text transform="translate(505.92,505.60) scale(0.9784,1.0000)" font-size="25.5" fill="#0f967a" stroke="#0f967a" stroke-width="0.35">(asynchronous,</text>
<text transform="translate(680.09,505.60) scale(1.1100,1.0000)" font-size="25.5" fill="#0f967a" stroke="#0f967a" stroke-width="0.35">ξ</text>
<text transform="translate(697.05,505.60) scale(1.1538,1.0000)" font-size="25.5" fill="#0f967a" stroke="#0f967a" stroke-width="0.35">=</text>
<text transform="translate(713.70,505.60) scale(0.9286,1.0000)" font-size="25.5" fill="#0f967a" stroke="#0f967a" stroke-width="0.35">4.4</text>
<text transform="translate(747.00,505.60) scale(0.8429,1.0000)" font-size="25.5" fill="#0f967a" stroke="#0f967a" stroke-width="0.35">)</text>
<text transform="translate(467.88,767.12) rotate(-90) scale(1.0231,1.0040)" font-size="28" fill="#231f20" stroke="#231f20" stroke-width="0.15">200 µm</text>
</svg></body></html>
